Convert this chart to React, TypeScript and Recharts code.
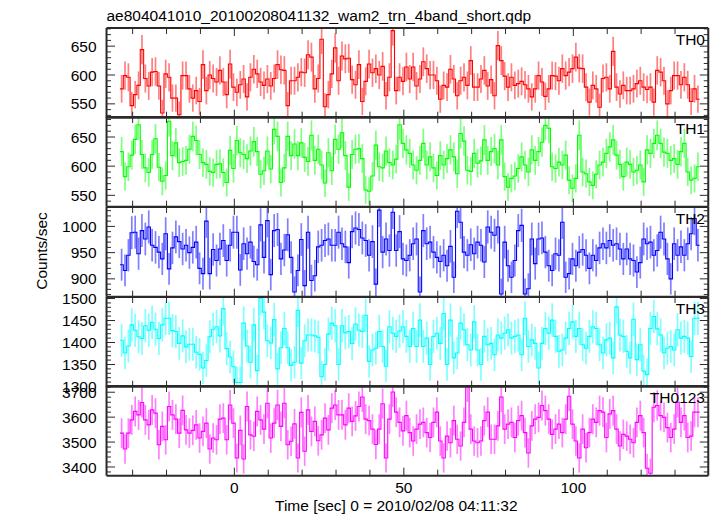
import React from 'react';
import { ComposedChart, Line, XAxis, YAxis, ErrorBar } from 'recharts';

// ---- data (1-s bins, count rate in counts/sec) ----
const BIN_START = -33.9;
const BIN_WIDTH = 1;

const TH0 = [
  576, 599, 596, 547, 566, 582, 644, 594, 581, 605,
  606, 581, 534, 602, 596, 560, 560, 531, 599, 599,
  576, 560, 573, 554, 618, 573, 600, 594, 588, 608,
  588, 566, 619, 579, 570, 583, 593, 562, 596, 610,
  602, 588, 582, 593, 581, 594, 618, 609, 608, 547,
  590, 590, 596, 605, 604, 635, 631,
  576, 594, 662, 545, 566, 602, 647, 590, 633, 628,
  629, 592, 583, 618, 554, 589, 619, 604, 611, 600,
  615, 564, 596, 677, 573, 596, 589, 614, 593, 614,
  581, 593, 623, 611, 600, 600, 590, 558, 582, 579,
  610, 593, 564, 590, 596, 582, 625, 579, 579, 593,
  608, 581, 592, 564, 651, 625,
  598, 579, 596, 582, 585, 589, 583, 576, 562, 576,
  599, 588, 563, 576, 599, 598, 590, 611, 599, 605,
  611, 631, 612, 611, 579, 553, 582, 576, 544, 594,
  596, 576, 641, 579, 567, 582, 573, 573, 576, 585,
  590, 579, 575, 579, 553, 608, 605, 590, 550, 573,
  599, 599, 583, 596, 583, 554, 576, 558,
];

const TH1 = [
  625, 582, 599, 619, 646, 671, 620, 597, 589, 620,
  647, 598, 574, 584, 677, 618, 640, 606, 608, 610,
  629, 651, 644, 620, 606, 603, 591, 589, 603, 604,
  589, 572, 627, 596, 644, 623, 620, 613, 626, 642,
  625, 586, 592, 626, 595, 663, 651, 572, 597, 651,
  618, 638, 618, 640, 615, 608, 653, 610, 629, 602,
  571, 623, 592, 646, 629, 657, 618, 564, 620, 629,
  630,
  613, 559, 557, 583, 636, 599, 597, 626, 606, 602,
  612, 671, 639, 628, 622, 602, 593, 610, 639, 602,
  616, 597, 584, 618, 602, 613, 628, 616, 587, 656,
  643, 593, 591, 622, 605, 609, 645, 610, 625, 630,
  602, 645,
  582, 564, 579, 583, 596, 616, 602, 590, 628, 610,
  625, 641, 670, 665, 599, 596, 607, 602, 619, 576,
  562, 579, 653, 590, 587, 573, 567, 586, 602, 607,
  622, 633, 645, 619, 603, 582, 607, 603, 590, 593,
  602, 573, 628, 622, 639, 653, 639, 624, 622, 610,
  613, 603, 625, 639, 590, 576, 579, 599,
];

const TH2 = [
  927, 916, 945, 988, 989, 948, 992, 976, 999, 964,
  960, 951, 938, 986, 919, 959, 980, 971, 957, 964,
  950, 960, 970, 920, 910, 1010, 910, 956, 935, 957,
  973, 935, 964, 989, 989, 917, 967, 948, 970, 933,
  927, 1003, 941, 1011, 908, 992, 994, 938, 955, 984,
  941, 875, 916, 975, 887, 989, 897,
  906, 961, 964, 973, 976, 964, 964, 989, 967, 961,
  931, 990, 997, 994, 978, 973, 945, 971, 890, 1031,
  951, 976, 954, 1027, 954, 990, 938, 935, 945, 967,
  976, 875, 992, 967, 970, 951, 941, 933, 945, 925,
  962, 903, 1029, 1008, 951, 945, 965, 948, 970, 964,
  932, 999, 989, 983, 999, 871,
  970, 925, 903, 935, 992, 1002, 871, 881, 976, 929,
  976, 978, 951, 925, 916, 948, 945, 1008, 903, 910,
  938, 925, 951, 956, 945, 920, 945, 935, 959, 967,
  959, 973, 964, 967, 957, 938, 957, 938, 935, 913,
  931, 976, 967, 970, 945, 954, 989, 976, 938, 900,
  967, 945, 961, 945, 967, 986, 1015, 964,
];

const TH3 = [
  1405, 1376, 1392, 1440, 1428, 1413, 1409, 1438, 1428, 1446,
  1430, 1409, 1440, 1455, 1455, 1427, 1425, 1398, 1415, 1390,
  1396, 1396, 1378, 1373, 1342, 1359, 1413, 1430, 1436, 1415,
  1477, 1386, 1367, 1345, 1309, 1309, 1444, 1392, 1355, 1440,
  1336, 1501, 1469, 1404, 1399, 1452, 1340, 1388, 1432, 1388,
  1348, 1355, 1473, 1353, 1404, 1417, 1417, 1415, 1412, 1322,
  1350, 1419, 1444, 1438, 1350, 1438, 1422, 1425, 1398, 1442,
  1428,
  1425, 1462, 1357, 1383, 1387, 1425, 1391, 1346, 1436, 1421,
  1414, 1426, 1436, 1414, 1391, 1432, 1391, 1451, 1391, 1410,
  1350, 1414, 1421, 1398, 1466, 1350, 1451, 1365, 1376, 1444,
  1429, 1395, 1383, 1447, 1383, 1350, 1414, 1395, 1398, 1372,
  1417, 1410,
  1421, 1429, 1410, 1414, 1417, 1372, 1455, 1391, 1406, 1398,
  1342, 1398, 1432, 1421, 1451, 1414, 1380, 1383, 1410, 1432,
  1447, 1414, 1432, 1395, 1387, 1414, 1436, 1432, 1395, 1376,
  1406, 1410, 1365, 1481, 1417, 1414, 1380, 1365, 1453, 1361,
  1395, 1335, 1327, 1432, 1459, 1431, 1417, 1376, 1387, 1391,
  1383, 1429, 1410, 1414, 1410, 1368, 1455, 1455,
];

const TH0123 = [
  3536, 3472, 3536, 3589, 3623, 3609, 3659, 3589, 3569, 3629,
  3616, 3489, 3563, 3509, 3643, 3609, 3592, 3536, 3627, 3549,
  3536, 3547, 3569, 3516, 3543, 3576, 3472, 3516, 3509, 3592,
  3596, 3509, 3649, 3576, 3436, 3547, 3432, 3643, 3529, 3523,
  3623, 3589, 3552, 3656, 3516, 3576, 3649, 3563, 3656, 3489,
  3503, 3573, 3436, 3619, 3463, 3629, 3543, 3583, 3505, 3529,
  3596, 3549, 3636, 3649, 3609, 3609, 3569, 3636, 3583, 3605,
  3643,
  3681, 3592, 3586, 3552, 3490, 3552, 3654, 3436, 3592, 3701,
  3620, 3579, 3545, 3606, 3538, 3504, 3552, 3572, 3579, 3538,
  3518, 3579, 3620, 3504, 3436, 3524, 3497, 3586, 3511, 3484,
  3579, 3722, 3552, 3504, 3497, 3504, 3586, 3620, 3511, 3511,
  3565, 3681,
  3552, 3572, 3579, 3518, 3586, 3606, 3538, 3456, 3565, 3592,
  3599, 3647, 3626, 3592, 3531, 3552, 3572, 3538, 3592, 3684,
  3572, 3504, 3436, 3552, 3477, 3538, 3592, 3579, 3626, 3620,
  3518, 3613, 3626, 3552, 3484, 3531, 3524, 3511, 3497, 3579,
  3606, 3538, 3395, 3375, 3640, 3647, 3606, 3599, 3558, 3518,
  3552, 3660, 3579, 3606, 3518, 3524, 3620, 3620,
];

const SERIES_NAMES = ['TH0', 'TH1', 'TH2', 'TH3', 'TH0123'];
const SERIES_VALUES = [TH0, TH1, TH2, TH3, TH0123];
const SERIES_COLORS = ['#ff0000', '#00ff00', '#0000ff', '#00ffff', '#ff00ff'];

const Y_DOMAINS: [number, number][] = [
  [526, 681.5],
  [530.5, 684.3],
  [866, 1037],
  [1299.5, 1503.5],
  [3365, 3725],
];
const Y_LABEL_TICKS = [
  [550, 600, 650],
  [550, 600, 650],
  [900, 950, 1000],
  [1300, 1350, 1400, 1450, 1500],
  [3400, 3500, 3600, 3700],
];
const Y_MINOR_STEPS = [10, 10, 10, 10, 20];

const X_DOMAIN: [number, number] = [-37.7, 139.8];
const X_TICKS = [-30, -20, -10, 0, 10, 20, 30, 40, 50, 60, 70, 80, 90, 100, 110, 120, 130];
const X_LABEL_TICKS = [0, 50, 100];

const TITLE = 'ae804041010_20100208041132_wam2_trn_4band_short.qdp';
const X_TITLE = 'Time [sec] 0 = 2010/02/08 04:11:32';
const Y_TITLE = 'Counts/sec';

// ---- layout ----
const FONT = '"Liberation Sans", Arial, Helvetica, sans-serif';
const FS = 15.5;
const W = 717;
const H = 516;
const PLOT_LEFT = 106.5;
const PLOT_RIGHT = 708.3;
const PLOT_W = PLOT_RIGHT - PLOT_LEFT;
const PLOT_TOP = 27.5;
const PANEL_H = 89.7;
const FRAME = '#2a2a2a';
const AX_H = 2;

function edgesOf(vals: number[]) {
  const pts = vals.map((v, k) => ({ t: BIN_START + k * BIN_WIDTH, v }));
  pts.push({ t: BIN_START + vals.length * BIN_WIDTH, v: vals[vals.length - 1] });
  return pts;
}
function centersOf(vals: number[]) {
  return vals.map((v, k) => ({ t: BIN_START + (k + 0.5) * BIN_WIDTH, v, err: Math.sqrt(v) }));
}
function minorTicks(domain: [number, number], step: number) {
  const out: number[] = [];
  for (let v = Math.ceil(domain[0] / step) * step; v <= domain[1]; v += step) out.push(v);
  return out;
}

function makeLeftTick(majors: number[]) {
  return (p: any) => {
    const v = p.payload.value;
    const major = majors.includes(v);
    const x = Number(p.x);
    const y = Number(p.y);
    return (
      <g>
        <path d={`M${x},${y}h${major ? 8.5 : 4.5}`} stroke={FRAME} strokeWidth={1} fill="none" />
        {major && (
          <text x={x - 10} y={y} dy="0.36em" textAnchor="end" fontSize={FS} fontFamily={FONT} fill="#000">
            {v}
          </text>
        )}
      </g>
    );
  };
}
function makeRightTick(majors: number[]) {
  return (p: any) => {
    const major = majors.includes(p.payload.value);
    const x = Number(p.x);
    const y = Number(p.y);
    return <path d={`M${x},${y}h${-(major ? 8.5 : 4.5)}`} stroke={FRAME} strokeWidth={1} fill="none" />;
  };
}
function makeTopTick() {
  return (p: any) => {
    const major = X_LABEL_TICKS.includes(p.payload.value);
    const x = Number(p.x);
    const y = Number(p.y);
    return <path d={`M${x},${y}v${major ? 8 : 6}`} stroke={FRAME} strokeWidth={1} fill="none" />;
  };
}
function makeBottomTick(showLabel: boolean) {
  return (p: any) => {
    const v = p.payload.value;
    const major = X_LABEL_TICKS.includes(v);
    const x = Number(p.x);
    const y = Number(p.y);
    return (
      <g>
        <path d={`M${x},${y}v${-(major ? 8 : 6)}`} stroke={FRAME} strokeWidth={1} fill="none" />
        {showLabel && major && (
          <text x={x} y={y + 17.5} textAnchor="middle" fontSize={FS} fontFamily={FONT} fill="#000">
            {v}
          </text>
        )}
      </g>
    );
  };
}

// data layer: its SVG is exactly the plot rectangle, so marks are clipped at the frame
function DataPanel({ index }: { index: number }) {
  const top = PLOT_TOP + index * PANEL_H;
  const vals = SERIES_VALUES[index];
  const color = SERIES_COLORS[index];
  const domain = Y_DOMAINS[index];
  return (
    <div style={{ position: 'absolute', left: PLOT_LEFT, top }}>
      <ComposedChart width={PLOT_W} height={PANEL_H} margin={{ top: 0, bottom: 0, left: 0, right: 0 }}>
        <XAxis xAxisId="x" type="number" dataKey="t" domain={X_DOMAIN} allowDataOverflow hide height={0} />
        <YAxis yAxisId="y" type="number" domain={domain} allowDataOverflow hide width={0} />
        <Line
          xAxisId="x"
          yAxisId="y"
          data={centersOf(vals)}
          dataKey="v"
          stroke="none"
          dot={false}
          activeDot={false}
          isAnimationActive={false}
        >
          <ErrorBar
            dataKey="err"
            width={0}
            stroke={color}
            strokeWidth={1.7}
            strokeOpacity={0.5}
            direction="y"
            isAnimationActive={false}
          />
        </Line>
        <Line
          xAxisId="x"
          yAxisId="y"
          data={edgesOf(vals)}
          dataKey="v"
          type="stepAfter"
          stroke={color}
          strokeWidth={1.1}
          dot={false}
          activeDot={false}
          isAnimationActive={false}
        />
      </ComposedChart>
    </div>
  );
}

// frame layer: axes, ticks and tick labels
function FramePanel({ index }: { index: number }) {
  const last = index === SERIES_VALUES.length - 1;
  const top = PLOT_TOP + index * PANEL_H;
  const mt = 12;
  const mb = last ? 34 : 12;
  const vals = SERIES_VALUES[index];
  const majors = Y_LABEL_TICKS[index];
  const domain = Y_DOMAINS[index];
  const yTicks = minorTicks(domain, Y_MINOR_STEPS[index]);
  const axisLine = { stroke: FRAME, strokeWidth: 2 };
  const edges = edgesOf(vals);
  return (
    <div style={{ position: 'absolute', left: 0, top: top - mt }}>
      <ComposedChart
        width={W}
        height={PANEL_H + mt + mb}
        margin={{ top: mt - AX_H, bottom: mb - AX_H, left: 0, right: 0 }}
      >
        <XAxis
          xAxisId="b"
          orientation="bottom"
          type="number"
          dataKey="t"
          domain={X_DOMAIN}
          allowDataOverflow
          ticks={X_TICKS}
          interval={0}
          height={AX_H}
          tickSize={0}
          tickMargin={0}
          stroke={FRAME}
          axisLine={axisLine}
          tickLine={false}
          tick={makeBottomTick(last)}
        />
        <XAxis
          xAxisId="t"
          orientation="top"
          type="number"
          dataKey="t"
          domain={X_DOMAIN}
          allowDataOverflow
          ticks={X_TICKS}
          interval={0}
          height={AX_H}
          tickSize={0}
          tickMargin={0}
          stroke={FRAME}
          axisLine={axisLine}
          tickLine={false}
          tick={makeTopTick()}
        />
        <YAxis
          yAxisId="l"
          orientation="left"
          type="number"
          domain={domain}
          allowDataOverflow
          ticks={yTicks}
          interval={0}
          width={PLOT_LEFT}
          tickSize={0}
          tickMargin={0}
          stroke={FRAME}
          axisLine={axisLine}
          tickLine={false}
          tick={makeLeftTick(majors)}
        />
        <YAxis
          yAxisId="r"
          orientation="right"
          type="number"
          domain={domain}
          allowDataOverflow
          ticks={yTicks}
          interval={0}
          width={W - PLOT_RIGHT}
          tickSize={0}
          tickMargin={0}
          stroke={FRAME}
          axisLine={axisLine}
          tickLine={false}
          tick={makeRightTick(majors)}
        />
        <Line xAxisId="b" yAxisId="l" data={edges} dataKey="v" stroke="none" dot={false} activeDot={false} isAnimationActive={false} />
        <Line xAxisId="t" yAxisId="r" data={edges} dataKey="v" stroke="none" dot={false} activeDot={false} isAnimationActive={false} />
      </ComposedChart>
    </div>
  );
}

export default function App() {
  return (
    <div style={{ position: 'absolute', left: 0, top: 0, width: W, height: H, background: '#fff' }}>
      {SERIES_VALUES.map((_, i) => (
        <DataPanel key={'d' + SERIES_NAMES[i]} index={i} />
      ))}
      {SERIES_VALUES.map((_, i) => (
        <FramePanel key={'f' + SERIES_NAMES[i]} index={i} />
      ))}
      <svg
        width={W}
        height={H}
        style={{ position: 'absolute', left: 0, top: 0, pointerEvents: 'none' }}
        fontFamily={FONT}
      >
        <text x={PLOT_LEFT} y={20.5} fontSize={FS} fill="#000">
          {TITLE}
        </text>
        {SERIES_NAMES.map((n, i) => (
          <text key={n} x={705} y={PLOT_TOP + i * PANEL_H + 17} fontSize={FS} textAnchor="end" fill="#000">
            {n}
          </text>
        ))}
        <text
          x={46.5}
          y={251}
          fontSize={FS}
          textAnchor="middle"
          fill="#000"
          transform="rotate(-90 46.5 251)"
        >
          {Y_TITLE}
        </text>
        <text x={275} y={511} fontSize={FS} fill="#000">
          {X_TITLE}
        </text>
      </svg>
    </div>
  );
}
